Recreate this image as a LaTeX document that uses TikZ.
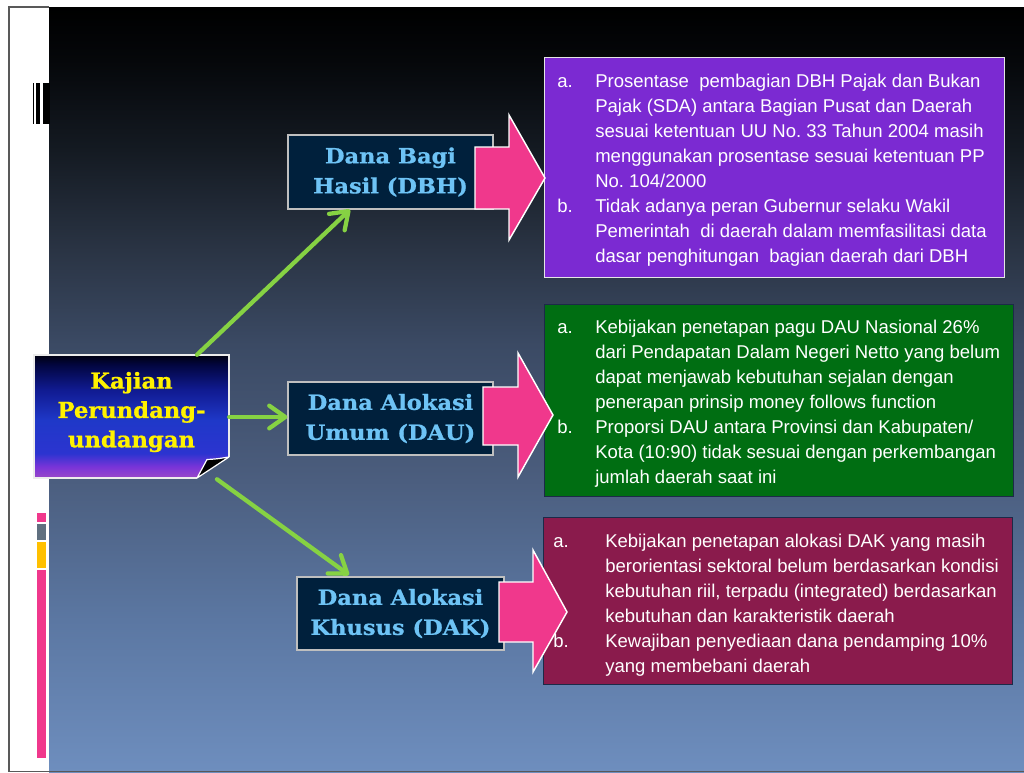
\documentclass[tikz,border=0pt]{standalone}
\usepackage{fontspec}
\setmainfont{Liberation Sans}
\newfontfamily\hdfont[FakeStretch=1.07, BoldFeatures={FakeBold=0.8}]{DejaVu Serif}
\newfontfamily\kjfont[FakeStretch=1.03, BoldFeatures={FakeBold=0.8}]{DejaVu Serif}
\usetikzlibrary{arrows.meta,calc}
\newlength\pxu \setlength\pxu{0.75pt}
\definecolor{pinkA}{HTML}{F0388C}
\definecolor{navyBox}{HTML}{00203C}
\definecolor{lblue}{HTML}{6EC3F5}
\definecolor{greenLn}{HTML}{86D243}
\definecolor{purpBox}{HTML}{7B2AD2}
\definecolor{greenBox}{HTML}{006E12}
\definecolor{maroonBox}{HTML}{8A1B4C}
\definecolor{darkEdge}{HTML}{1C2A48}
\definecolor{stripGray}{HTML}{607080}
\definecolor{stripYel}{HTML}{FFC000}
\definecolor{bg0}{HTML}{6E8EBE}
\definecolor{bg1}{HTML}{5B77A2}
\definecolor{bg2}{HTML}{4A5C7C}
\definecolor{bg3}{HTML}{3B4A64}
\definecolor{bg4}{HTML}{2A3444}
\definecolor{bg5}{HTML}{141A22}
\definecolor{bg6}{HTML}{05070A}
\definecolor{kj0}{HTML}{9A48C8}
\definecolor{kj1}{HTML}{7A34D8}
\definecolor{kj2}{HTML}{2C34D0}
\definecolor{kj3}{HTML}{1F38C8}
\definecolor{kj4}{HTML}{101A90}
\definecolor{kj5}{HTML}{020640}
\definecolor{kj6}{HTML}{000010}
\pgfdeclareverticalshading{bgshade}{100bp}{color(0bp)=(bg0); color(25bp)=(bg0); color(34.95bp)=(bg1); color(44.75bp)=(bg2); color(52.9bp)=(bg3); color(59.1bp)=(bg4); color(65.65bp)=(bg5); color(71.55bp)=(bg6); color(75bp)=(black); color(100bp)=(black)}
\pgfdeclareverticalshading{kjshade}{100bp}{color(0bp)=(kj0); color(25bp)=(kj0); color(29.5bp)=(kj1); color(35bp)=(kj2); color(48.5bp)=(kj3); color(61bp)=(kj4); color(71bp)=(kj5); color(75bp)=(kj6); color(100bp)=(kj6)}
\tikzset{
  lbl/.style={fill=navyBox, draw=gray!50!white, line width=0.9pt, text=lblue, align=center, inner sep=0pt,
    font={\hdfont\bfseries\fontsize{15.8pt}{22.5pt}\selectfont}},
  conn/.style={draw=greenLn, line width=3.2pt, line cap=round,
    -{Straight Barb[length=12pt, width=17pt, round]}},
  pinkarrow/.style={fill=pinkA, draw=white, line width=1.1pt, line join=miter},
  tbox/.style={anchor=north west, inner sep=0pt, line width=1pt},
  listtext/.style={anchor=base west, inner sep=0pt, text=white,
    font={\fontsize{13.9pt}{18.75pt}\selectfont\frenchspacing}}
}
\begin{document}
\begin{tikzpicture}[x=0.75pt, y=-0.75pt]
\useasboundingbox (0,0) rectangle (1024,772);
\fill[white] (0,0) rectangle (1024,772);
% background panel
\shade[shading=bgshade] (49,7) rectangle (1025,772);
\draw[black!65, line width=1.2pt] (49,7) -- (9,7) -- (9,771.5) -- (1025,771.5);
% cut-off title bars
\fill[black] (33,83) rectangle (33.8,124);
\fill[black] (35.7,83) rectangle (40.3,124);
\fill[black] (42.7,83) rectangle (49.5,124);
% left strip
\fill[pinkA] (37,513) rectangle (46,522);
\fill[stripGray] (37,524) rectangle (46,540);
\fill[stripYel] (37,542) rectangle (46,568);
\fill[pinkA] (37,569.5) rectangle (46,758);
% Kajian box
\shade[shading=kjshade] (34,355) -- (229,355) -- (229,457) -- (197,478) -- (34,478) -- cycle;
\draw[white!85!gray, line width=0.9pt] (197,478) -- (34,478) -- (34,355) -- (229,355) -- (229,457);
\filldraw[fill=black, draw=white, line width=0.9pt, line join=round] (197,478) -- (207,459.5) .. controls (216,459) .. (229,457) -- cycle;
\node[minimum width=195\pxu, minimum height=123\pxu, inner sep=0pt] (kaj) at (131.5,416.5) {};
\node[text=yellow, align=center, inner sep=0pt, font={\kjfont\bfseries\fontsize{16.5pt}{22pt}\selectfont}] (kajt) at (131.5,412) {Kajian\\Perundang-\\undangan};
% label boxes
\node[lbl, minimum width=205\pxu, minimum height=74\pxu] (dbh) at (390.5,172) {Dana Bagi\\Hasil (DBH)};
\node[lbl, minimum width=205\pxu, minimum height=73\pxu] (dau) at (390.5,418.5) {Dana Alokasi\\Umum (DAU)};
\node[lbl, minimum width=207\pxu, minimum height=73\pxu] (dak) at (400.5,613.5) {Dana Alokasi\\Khusus (DAK)};
% connectors
\draw[conn] ($(kaj.north)+(65.5,0)$) -- ($(dbh.south)+(-40.5,0)$);
\draw[conn] (kaj.east |- 0,417) -- (dau.west |- 0,417);
\draw[conn] ($(kaj.south)+(85.5,1)$) -- ($(dak.north)+(-51.5,-1.5)$);
% text boxes
\node[tbox, fill=purpBox, draw=white!80!gray, minimum width=460\pxu, minimum height=220\pxu] (tdbh) at (544,57) {};
\node[tbox, fill=greenBox, draw=darkEdge, minimum width=469\pxu, minimum height=192\pxu] (tdau) at (544,304) {};
\node[tbox, fill=maroonBox, draw=darkEdge, minimum width=469\pxu, minimum height=167\pxu] (tdak) at (543,517) {};
% pink arrows
\filldraw[pinkarrow] (475,147) -- (509,147) -- (509,115) -- (545,178) -- (509,240) -- (509,209) -- (475,209) -- cycle;
\filldraw[pinkarrow] (483,387) -- (518,387) -- (518,353) -- (553,415) -- (518,477) -- (518,445) -- (483,445) -- cycle;
\filldraw[pinkarrow] (499,582) -- (533,582) -- (533,550) -- (567,612) -- (533,672) -- (533,642) -- (499,642) -- cycle;
% list texts
\node[listtext] (xdbh) at (557,87) {\begin{tabular}[t]{@{}p{28.5pt}@{}l@{}}
a. & Prosentase\ \ pembagian DBH Pajak dan Bukan\\
   & Pajak (SDA) antara Bagian Pusat dan Daerah\\
   & sesuai ketentuan UU No. 33 Tahun 2004 masih\\
   & menggunakan prosentase sesuai ketentuan PP\\
   & No. 104/2000\\
b. & Tidak adanya peran Gubernur selaku Wakil\\
   & Pemerintah\ \ di daerah dalam memfasilitasi data\\
   & dasar penghitungan\ \ bagian daerah dari DBH
\end{tabular}};
\node[listtext] (xdau) at (557,333) {\begin{tabular}[t]{@{}p{28.5pt}@{}l@{}}
a. & Kebijakan penetapan pagu DAU Nasional 26\%\\
   & dari Pendapatan Dalam Negeri Netto yang belum\\
   & dapat menjawab kebutuhan sejalan dengan\\
   & penerapan prinsip money follows function\\
b. & Proporsi DAU antara Provinsi dan Kabupaten/\\
   & Kota (10:90) tidak sesuai dengan perkembangan\\
   & jumlah daerah saat ini
\end{tabular}};
\node[listtext] (xdak) at (553,547) {\begin{tabular}[t]{@{}p{39pt}@{}l@{}}
a. & Kebijakan penetapan alokasi DAK yang masih\\
   & berorientasi sektoral belum berdasarkan kondisi\\
   & kebutuhan riil, terpadu (integrated) berdasarkan\\
   & kebutuhan dan karakteristik daerah\\
b. & Kewajiban penyediaan dana pendamping 10\%\\
   & yang membebani daerah
\end{tabular}};
\end{tikzpicture}
\end{document}
